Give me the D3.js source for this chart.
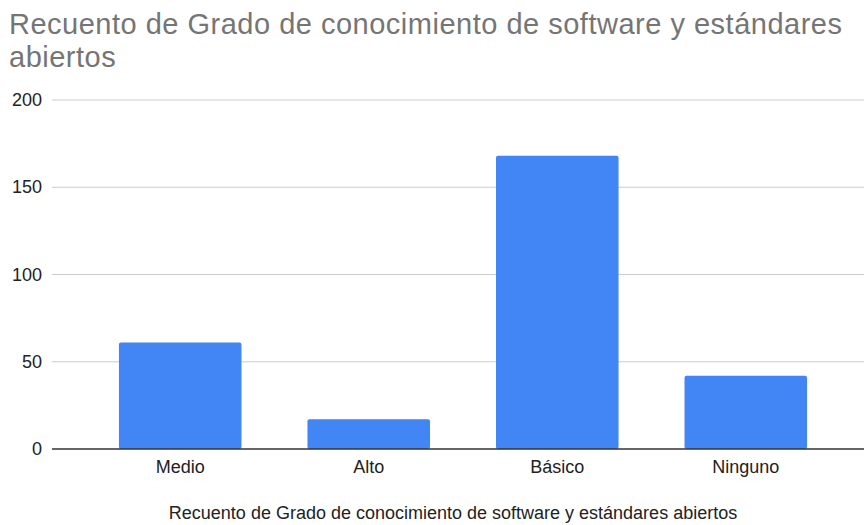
<!DOCTYPE html>
<html lang="es">
	<head>
		<meta charset="utf-8">
		<title>Recuento</title>
		<script type="text/javascript" src="https://d3js.org/d3.v7.min.js"></script>
		<style>
			body { margin:0; background:#fff; }
			text { font-family: Arial, "Liberation Sans", sans-serif; }
		</style>
	</head>
	<body>
		<svg id="chart"></svg>
		<script>
			var categories = ["Medio","Alto","Básico","Ninguno"];
			var counts = [61,17,168,42];
			var yTicks = [0,50,100,150,200];
			var titleLines = ["Recuento de Grado de conocimiento de software y estándares","abiertos"];
			var axisTitle = "Recuento de Grado de conocimiento de software y estándares abiertos";

			var width = 864;
			var height = 525;
			var plot = {left:52, right:874, top:100, bottom:449};

			var svg = d3.select("#chart")
				.attr("width",width)
				.attr("height",height);

			var xScale = d3.scaleBand()
				.domain(categories)
				.range([plot.left,plot.right])
				.paddingInner(0.35)
				.paddingOuter(0.355);

			var yScale = d3.scaleLinear()
				.domain([0,200])
				.range([plot.bottom,plot.top]);

			// title (two lines)
			svg.selectAll("text.title")
				.data(titleLines)
				.enter()
				.append("text")
				.attr("class","title")
				.attr("x",9)
				.attr("y",(d,i)=>34+i*32.5)
				.attr("font-size","29px")
				.attr("letter-spacing","0.5px")
				.attr("fill","#757575")
				.text(d=>d);

			// gridlines
			svg.selectAll("line.grid")
				.data(yTicks.filter(d=>d>0))
				.enter()
				.append("line")
				.attr("class","grid")
				.attr("x1",plot.left)
				.attr("x2",plot.right)
				.attr("y1",d=>yScale(d))
				.attr("y2",d=>yScale(d))
				.attr("stroke","#cccccc")
				.attr("stroke-width",1);

			// y labels
			svg.selectAll("text.ylab")
				.data(yTicks)
				.enter()
				.append("text")
				.attr("class","ylab")
				.attr("x",42)
				.attr("y",d=>yScale(d)+6)
				.attr("text-anchor","end")
				.attr("font-size","18px")
				.attr("fill","#222")
				.text(d=>d);

			// bars
			svg.selectAll("rect")
				.data(counts)
				.enter()
				.append("rect")
				.attr("x",(d,i)=>xScale(categories[i]))
				.attr("y",d=>yScale(d))
				.attr("width",xScale.bandwidth())
				.attr("height",d=>plot.bottom-yScale(d))
				.attr("rx",2)
				.attr("fill","#4285f4");

			// baseline
			svg.append("line")
				.attr("x1",plot.left)
				.attr("x2",plot.right)
				.attr("y1",yScale(0))
				.attr("y2",yScale(0))
				.attr("stroke","#333")
				.attr("stroke-width",1.5);

			// x labels
			svg.selectAll("text.xlab")
				.data(categories)
				.enter()
				.append("text")
				.attr("class","xlab")
				.attr("x",d=>xScale(d)+xScale.bandwidth()/2)
				.attr("y",473)
				.attr("text-anchor","middle")
				.attr("font-size","18px")
				.attr("fill","#222")
				.text(d=>d);

			svg.append("text")
				.attr("x",453)
				.attr("y",519)
				.attr("text-anchor","middle")
				.attr("font-size","18px")
				.attr("fill","#222")
				.text(axisTitle);
		</script>
	</body>
</html>
